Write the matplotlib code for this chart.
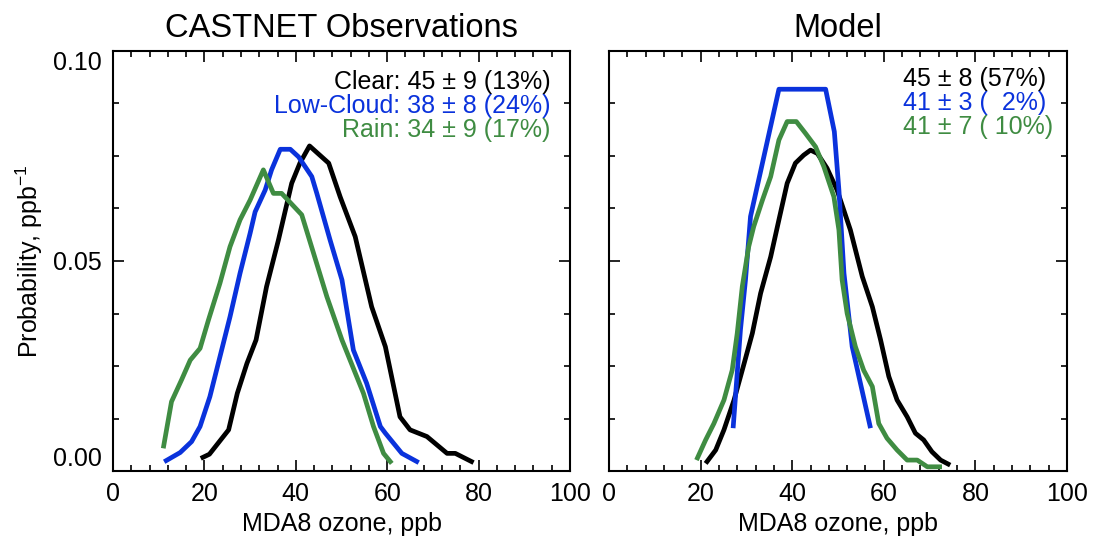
import matplotlib
matplotlib.use('AGG')
import matplotlib.pyplot as plt
from matplotlib.ticker import MultipleLocator

plt.rcParams['font.family'] = ['Liberation Sans', 'DejaVu Sans']
plt.rcParams['mathtext.fontset'] = 'custom'
plt.rcParams['mathtext.rm'] = 'Liberation Sans'
plt.rcParams['mathtext.it'] = 'Liberation Sans:italic'

BLACK = 'black'
BLUE = '#0a32dc'
GREEN = '#3f8c42'

# CASTNET observations (ozone ppb, probability)
obs_clear_x = [19.2, 21.1, 25.3, 27.2, 29.3, 31.3, 33.6, 36.2, 39.1, 40.9, 43.0, 47.2, 49.7,
               53.0, 56.6, 59.6, 62.8, 65.0, 68.7, 73.1, 74.9, 78.9]
obs_clear_y = [0.0030, 0.0040, 0.0098, 0.0185, 0.0256, 0.0312, 0.0439, 0.0550, 0.0685, 0.0733,
               0.0774, 0.0733, 0.0653, 0.0558, 0.0391, 0.0296, 0.0129, 0.0098, 0.0082, 0.0042,
               0.0042, 0.0020]
obs_cloud_x = [11.2, 14.7, 17.2, 19.05, 21.2, 23.4, 25.6, 27.8, 30.0, 31.1, 33.3, 34.7, 36.6,
               38.8, 40.6, 43.5, 44.6, 47.5, 50.1, 52.6, 55.5, 58.5, 59.6, 63.2, 66.9]
obs_cloud_y = [0.0022, 0.0044, 0.0070, 0.0106, 0.0177, 0.0272, 0.0367, 0.0471, 0.0566, 0.0617,
               0.0669, 0.0717, 0.0766, 0.0766, 0.0748, 0.0701, 0.0661, 0.0550, 0.0455, 0.0288,
               0.0209, 0.0106, 0.0090, 0.0042, 0.0020]
obs_rain_x = [11.0, 12.8, 15.0, 16.9, 19.05, 20.9, 23.4, 25.6, 27.8, 30.0, 32.9, 35.1, 36.9,
              41.3, 43.9, 46.8, 50.1, 54.8, 57.0, 59.2, 61.0]
obs_rain_y = [0.0054, 0.0165, 0.0217, 0.0264, 0.0292, 0.0360, 0.0447, 0.0534, 0.0598, 0.0645,
              0.0717, 0.0661, 0.0661, 0.0610, 0.0518, 0.0415, 0.0312, 0.0185, 0.0106, 0.0042,
              0.0018]

# Model
mod_clear_x = [21.1, 23.3, 25.1, 27.3, 29.5, 31.3, 33.1, 35.3, 37.1, 38.9, 40.7, 42.5, 44.0,
               45.5, 47.6, 49.8, 52.7, 55.3, 57.5, 59.3, 61.1, 62.9, 65.1, 66.9, 68.7, 70.5,
               72.4, 74.5]
mod_clear_y = [0.0018, 0.0050, 0.0098, 0.0169, 0.0256, 0.0328, 0.0423, 0.0510, 0.0598, 0.0685,
               0.0733, 0.0752, 0.0764, 0.0756, 0.0721, 0.0669, 0.0574, 0.0463, 0.0391, 0.0312,
               0.0225, 0.0169, 0.0129, 0.0090, 0.0074, 0.0046, 0.0026, 0.0014]
mod_cloud_x = [27.1, 28.7, 29.8, 30.9, 37.1, 47.3, 49.2, 50.2, 51.3, 53.1, 57.1]
mod_cloud_y = [0.0102, 0.0336, 0.0455, 0.0606, 0.0909, 0.0909, 0.0808, 0.0669, 0.0471, 0.0296,
               0.0102]
mod_rain_x = [19.1, 21.1, 22.9, 25.1, 26.9, 28.0, 29.1, 30.5, 31.6, 33.5, 35.3, 37.1, 38.9,
              40.9, 42.9, 45.1, 46.9, 49.1, 50.2, 50.9, 52.0, 53.8, 55.6, 57.5, 58.9, 60.7,
              62.9, 65.1, 67.3, 69.5, 72.7]
mod_rain_y = [0.0026, 0.0074, 0.0113, 0.0169, 0.0240, 0.0328, 0.0439, 0.0534, 0.0582, 0.0645,
              0.0701, 0.0788, 0.0832, 0.0832, 0.0804, 0.0772, 0.0725, 0.0653, 0.0574, 0.0455,
              0.0375, 0.0296, 0.0240, 0.0201, 0.0113, 0.0078, 0.0050, 0.0026, 0.0026, 0.0010,
              0.0010]

obs_labels = ['Clear: 45 \u00b1 9 (13%)', 'Low-Cloud: 38 \u00b1 8 (24%)', 'Rain: 34 \u00b1 9 (17%)']
mod_labels = ['45 \u00b1 8 (57%)', '41 \u00b1 3 (  2%)', '41 \u00b1 7 ( 10%)']
colors = [BLACK, BLUE, GREEN]

W, H = 1093, 540
fig = plt.figure(figsize=(W / 100, H / 100), dpi=100)
ax1 = fig.add_axes([113 / W, 69 / H, 457 / W, 420 / H])
ax2 = fig.add_axes([609 / W, 69 / H, 458 / W, 420 / H])

lw = 3.4
for ax, series, title in [
        (ax1, [(obs_clear_x, obs_clear_y), (obs_cloud_x, obs_cloud_y), (obs_rain_x, obs_rain_y)],
         'CASTNET Observations'),
        (ax2, [(mod_clear_x, mod_clear_y), (mod_cloud_x, mod_cloud_y), (mod_rain_x, mod_rain_y)],
         'Model')]:
    for (xs, ys), c in zip(series, colors):
        ax.plot(xs, ys, color=c, lw=lw, solid_capstyle='butt')
    ax.set_xlim(0, 100)
    ax.set_ylim(0, 0.1)
    ax.xaxis.set_major_locator(MultipleLocator(20))
    ax.xaxis.set_minor_locator(MultipleLocator(4))
    ax.yaxis.set_major_locator(MultipleLocator(0.05))
    ax.yaxis.set_minor_locator(MultipleLocator(0.0125))
    ax.tick_params(which='both', direction='in', top=True, right=True, width=1.2,
                   labelsize=18)
    ax.tick_params(which='major', length=8, pad=8)
    ax.tick_params(which='minor', length=4)
    for s in ax.spines.values():
        s.set_linewidth(1.5)
    ax.set_xlabel('MDA8 ozone, ppb', fontsize=18, labelpad=4)
    ax.set_title(title, fontsize=23.5, pad=10)

ax1.set_yticks([0, 0.05, 0.1])
ax1.set_yticklabels(['0.00', '0.05', '0.10'])
ylabs = ax1.get_yticklabels()
ylabs[0].set_verticalalignment('bottom')
ylabs[-1].set_verticalalignment('top')
ax2.set_yticks([0, 0.05, 0.1])
ax2.tick_params(labelleft=False)
ax1.set_ylabel('Probability, ppb$^{-1}$', fontsize=18, labelpad=6)

for i, (txt, c) in enumerate(zip(obs_labels, colors)):
    ax1.text(0.957, 0.927 - i * 0.058, txt, color=c, fontsize=18, ha='right', va='center',
             transform=ax1.transAxes)
for i, (txt, c) in enumerate(zip(mod_labels, colors)):
    ax2.text(0.641, 0.934 - i * 0.058, txt, color=c, fontsize=18, ha='left', va='center',
             transform=ax2.transAxes)

fig.savefig('out.png', dpi=100)
